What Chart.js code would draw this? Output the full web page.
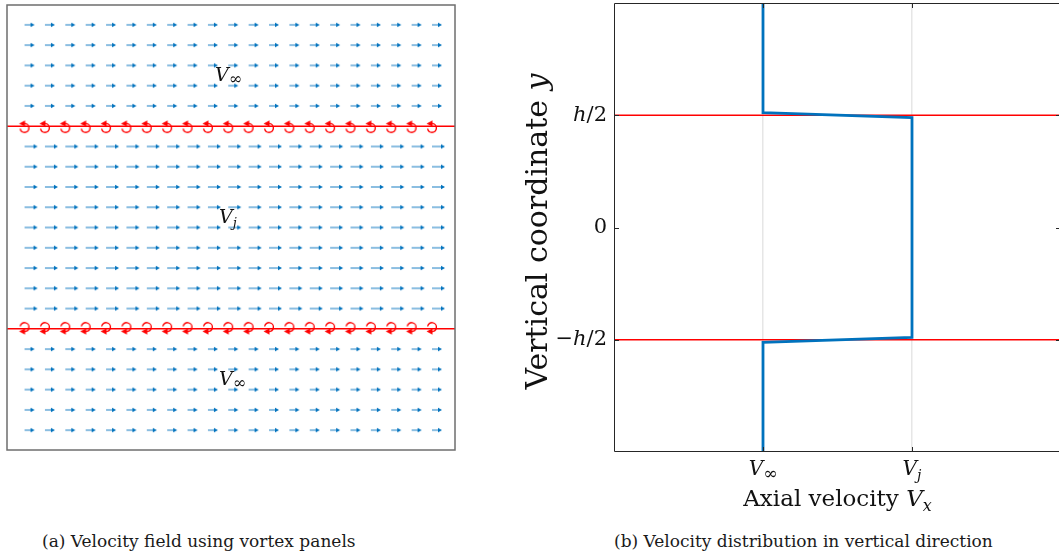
<!DOCTYPE html>
<html><head><meta charset="utf-8">
<script src="https://cdn.jsdelivr.net/npm/chart.js@4.4.0/dist/chart.umd.min.js"></script>
<style>
html,body{margin:0;padding:0;background:#fff;width:1059px;height:553px;overflow:hidden;position:relative;}
#ca{position:absolute;left:0;top:0;}
#cb{position:absolute;left:500px;top:0;}
.cap{position:absolute;top:531px;font-family:"DejaVu Serif";font-size:17px;color:#1a1a1a;white-space:nowrap;line-height:20px;}
</style></head><body>
<canvas id="ca" width="462" height="456"></canvas>
<canvas id="cb" width="570" height="520"></canvas>
<div class="cap" style="left:42px">(a) Velocity field using vortex panels</div>
<div class="cap" style="left:614px">(b) Velocity distribution in vertical direction</div>
<script>
// ---------- data: (a) velocity field ----------
const gridCols = [0,1,2,3,4,5,6,7,8,9,10,11,12,13,14,15,16,17,18,19,20];
const freeRows = [10,9,8,7,6,-6,-7,-8,-9,-10];
const jetRows = [4,3,2,1,0,-1,-2,-3,-4];
const panelRows = [5,-5];           // upper and lower vortex sheets
const fieldLabelMain = ['V','V','V'];
const fieldLabelSub = ['\u221E','j','\u221E'];
const fieldLabelX = [9.35,9.55,9.55];
const fieldLabelY = [7.25,0.22,-7.79];

// ---------- data: (b) velocity profile ----------
const profileVx = [1,1,2,2,1,1];
const profileY = [1,0.512,0.49,-0.49,-0.512,-1];
const shearY = [0.5,-0.5];
const xTickValues = [1,2];
const xTickSub = ['\u221E','j'];
const yTickValues = [-0.5,0,0.5];
const yTickLabels = [['\u2212','h','/2'],['','','0'],['','h','/2']];

const SERIF = '"DejaVu Serif"';
const BLUE = '#0072BD';

function drawRich(ctx, parts, x, y, align){
  let w = 0;
  parts.forEach(p=>{ctx.font=p.font; p.w=ctx.measureText(p.t).width; w+=p.w + (p.gap||0);});
  let cx = align==='center' ? x - w/2 : align==='right' ? x - w : x;
  parts.forEach(p=>{ctx.font=p.font; ctx.fillText(p.t, cx, y + (p.dy||0)); cx += p.w + (p.gap||0);});
}

// arrow glyphs
function makeArrow(len){
  const c = document.createElement('canvas');
  c.width = 2*len+2; c.height = 8;
  const g = c.getContext('2d');
  const x0 = len+1, y0 = 4;
  g.strokeStyle = 'rgba(0,114,189,0.7)'; g.lineWidth = 1.3;
  g.beginPath(); g.moveTo(x0,y0); g.lineTo(x0+len-3,y0); g.stroke();
  g.fillStyle = BLUE;
  g.beginPath(); g.moveTo(x0+len,y0); g.lineTo(x0+len-4,y0-2.2); g.lineTo(x0+len-4,y0+2.2); g.closePath(); g.fill();
  return c;
}
function makeVortex(upper){
  const c = document.createElement('canvas');
  c.width = 20; c.height = 22;
  const g = c.getContext('2d');
  const cx = 10, cy = upper ? 12.8 : 9.2, r = 4.4;
  g.strokeStyle = '#FF0000'; g.fillStyle = '#FF0000'; g.lineWidth = 1.4;
  g.beginPath();
  if (upper) g.arc(cx, cy, r, -Math.PI/2, Math.PI*0.95, false);
  else g.arc(cx, cy, r, Math.PI*1.05, Math.PI/2, false);
  g.stroke();
  const ty = upper ? cy - r : cy + r;
  g.beginPath(); g.moveTo(cx-5.5, ty); g.lineTo(cx+0.5, ty-3.2); g.lineTo(cx+0.5, ty+3.2); g.closePath(); g.fill();
  return c;
}

const freePts = [], jetPts = [];
freeRows.forEach(y=>gridCols.forEach(x=>freePts.push({x,y})));
jetRows.forEach(y=>gridCols.forEach(x=>jetPts.push({x,y})));
const upperPts = gridCols.map(x=>({x, y:panelRows[0]}));
const lowerPts = gridCols.map(x=>({x, y:panelRows[1]}));
const xMinA = -0.86, xMaxA = 21.13;

const boxA = {
  id:'boxA',
  afterDraw(chart){
    const {ctx, chartArea:a, scales:{x,y}} = chart;
    ctx.save();
    ctx.strokeStyle = '#6e6e6e'; ctx.lineWidth = 1.5;
    ctx.strokeRect(a.left, a.top, a.right-a.left, a.bottom-a.top);
    ctx.fillStyle = '#111'; ctx.textBaseline = 'alphabetic';
    fieldLabelMain.forEach((m,i)=>{
      const inf = fieldLabelSub[i] !== 'j';
      drawRich(ctx, [
        {t:m, font:'italic 19px '+SERIF},
        {t:fieldLabelSub[i], font:inf ? '16px '+SERIF : 'italic 13px '+SERIF, dy:inf?3:4}
      ], x.getPixelForValue(fieldLabelX[i]), y.getPixelForValue(fieldLabelY[i]), 'left');
    });
    ctx.restore();
  }
};

new Chart(document.getElementById('ca'), {
  type:'scatter',
  data:{datasets:[
    {data:[{x:xMinA,y:panelRows[0]},{x:xMaxA,y:panelRows[0]}], showLine:true, borderColor:'#FF0000', borderWidth:1.6, pointRadius:0},
    {data:[{x:xMinA,y:panelRows[1]},{x:xMaxA,y:panelRows[1]}], showLine:true, borderColor:'#FF0000', borderWidth:1.6, pointRadius:0},
    {data:freePts, pointStyle:makeArrow(10), pointRadius:1},
    {data:jetPts, pointStyle:makeArrow(13), pointRadius:1},
    {data:upperPts, pointStyle:makeVortex(true), pointRadius:1},
    {data:lowerPts, pointStyle:makeVortex(false), pointRadius:1}
  ]},
  options:{
    responsive:false, animation:false, events:[],
    layout:{padding:{left:7,top:3,right:7,bottom:6}},
    plugins:{legend:{display:false}, tooltip:{enabled:false}},
    scales:{
      x:{type:'linear', display:false, min:xMinA, max:xMaxA},
      y:{type:'linear', display:false, min:-10.98, max:10.98}
    }
  },
  plugins:[boxA]
});

// ---------- (b) ----------
const axesB = {
  id:'axesB',
  afterDatasetsDraw(chart){
    const {ctx, chartArea:a, scales:{x,y}} = chart;
    ctx.save();
    ctx.strokeStyle = '#262626'; ctx.lineWidth = 1;
    ctx.beginPath();
    ctx.rect(a.left+0.5, a.top+0.5, a.right-a.left-1, a.bottom-a.top-1);
    const tl = 5;
    xTickValues.forEach(v=>{
      const px = Math.round(x.getPixelForValue(v))+0.5;
      ctx.moveTo(px, a.bottom); ctx.lineTo(px, a.bottom-tl);
      ctx.moveTo(px, a.top); ctx.lineTo(px, a.top+tl);
    });
    yTickValues.forEach(v=>{
      const py = Math.round(y.getPixelForValue(v))+0.5;
      ctx.moveTo(a.left, py); ctx.lineTo(a.left+tl, py);
      ctx.moveTo(a.right, py); ctx.lineTo(a.right-tl, py);
    });
    ctx.stroke();
    ctx.restore();
  },
  afterDraw(chart){
    const {ctx, chartArea:a, scales:{x,y}} = chart;
    ctx.save();
    ctx.fillStyle = '#111';
    // y tick labels
    ctx.textBaseline = 'middle';
    yTickValues.forEach((v,i)=>{
      const [pre, it, post] = yTickLabels[i];
      drawRich(ctx, [
        {t:pre, font:'21px '+SERIF},
        {t:it, font:'italic 21px '+SERIF},
        {t:post, font:'21px '+SERIF}
      ], a.left-7, y.getPixelForValue(v), 'right');
    });
    // x tick labels
    ctx.textBaseline = 'alphabetic';
    xTickValues.forEach((v,i)=>{
      const inf = xTickSub[i] !== 'j';
      drawRich(ctx, [
        {t:'V', font:'italic 20px '+SERIF},
        {t:xTickSub[i], font:inf ? '17px '+SERIF : 'italic 14px '+SERIF, dy:inf?4:5}
      ], x.getPixelForValue(v), a.bottom+23, 'center');
    });
    // x title
    drawRich(ctx, [
      {t:'Axial velocity ', font:'23px '+SERIF},
      {t:'V', font:'italic 23px '+SERIF},
      {t:'x', font:'italic 16px '+SERIF, dy:5}
    ], (a.left+a.right)/2, a.bottom+54, 'center');
    // y title
    ctx.translate(a.left-67, (a.top+a.bottom)/2+4);
    ctx.rotate(-Math.PI/2);
    drawRich(ctx, [
      {t:'Vertical coordinate ', font:'30px '+SERIF},
      {t:'y', font:'italic 30px '+SERIF}
    ], 0, 0, 'center');
    ctx.restore();
  }
};

new Chart(document.getElementById('cb'), {
  type:'scatter',
  data:{datasets:[
    {data:profileVx.map((v,i)=>({x:v, y:profileY[i]})), showLine:true, borderColor:BLUE, borderWidth:2.8, pointRadius:0, tension:0},
    {data:[{x:0,y:shearY[0]},{x:3,y:shearY[0]}], showLine:true, borderColor:'#FF0000', borderWidth:1.5, pointRadius:0},
    {data:[{x:0,y:shearY[1]},{x:3,y:shearY[1]}], showLine:true, borderColor:'#FF0000', borderWidth:1.5, pointRadius:0}
  ]},
  options:{
    responsive:false, animation:false, events:[],
    layout:{padding:{left:114,top:3,right:9,bottom:68}},
    plugins:{legend:{display:false}, tooltip:{enabled:false}},
    scales:{
      x:{type:'linear', min:0, max:3,
         ticks:{display:false},
         grid:{color:'#e6e6e6', lineWidth:1.5, drawTicks:false},
         border:{display:false},
         afterBuildTicks:s=>{s.ticks = xTickValues.map(v=>({value:v}));}},
      y:{type:'linear', display:false, min:-1, max:1}
    }
  },
  plugins:[axesB]
});
</script>
</body></html>
